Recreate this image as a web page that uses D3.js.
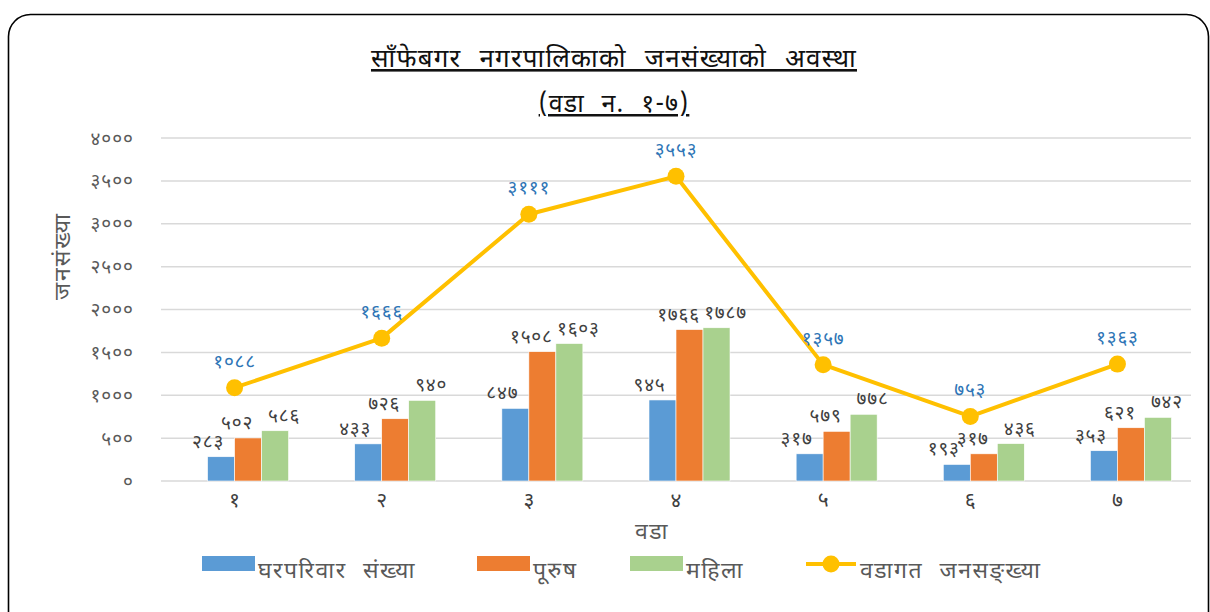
<!DOCTYPE html>
<html>
<head>
<meta charset="utf-8">
<script src="https://cdn.jsdelivr.net/npm/d3@7"></script>
<style>
  body { margin: 0; background: #fff; }
  text { font-family: "Noto Sans Devanagari", "Noto Sans", "Lohit Devanagari", sans-serif; }
</style>
</head>
<body>
<script>
(function all (){
  //chart data
  var wards = ["१", "२", "३", "४", "५", "६", "७"];
  var households = [283, 433, 847, 945, 317, 193, 353];
  var males = [502, 726, 1508, 1766, 579, 317, 621];
  var females = [586, 940, 1603, 1787, 778, 436, 742];
  var totals = [1088, 1666, 3111, 3553, 1357, 753, 1363];
  var yTicks = [0, 500, 1000, 1500, 2000, 2500, 3000, 3500, 4000];
  var seriesNames = ["घरपरिवार संख्या", "पूरुष", "महिला"];
  var lineName = "वडागत जनसङ्ख्या";

  var width = 1210, height = 612;
  var left = 161, right = 1191, top = 138, bottom = 481;

  //convert arabic digits to devanagari digits
  var devDigits = "०१२३४५६७८९";
  function dev(n){
    return String(n).replace(/[0-9]/g, function(c){ return devDigits[+c]; });
  }

  var svg = d3.select("body")
    .append("svg")
    .attr("width", width)
    .attr("height", height);

  //rounded frame
  svg.append("rect")
    .attr("x", 8.5).attr("y", 14.5)
    .attr("width", 1200).attr("height", 640)
    .attr("rx", 22).attr("ry", 22)
    .style("fill", "none")
    .style("stroke", "#000")
    .style("stroke-width", 1.6);

  //title
  svg.append("text")
    .attr("x", 614).attr("y", 67)
    .attr("text-anchor", "middle")
    .style("font-size", "26px")
    .style("letter-spacing", "1.2px")
    .style("word-spacing", "10px")
    .style("text-decoration", "underline")
    .style("fill", "#111")
    .text("साँफेबगर नगरपालिकाको जनसंख्याको अवस्था");
  svg.append("text")
    .attr("x", 614).attr("y", 112)
    .attr("text-anchor", "middle")
    .style("font-size", "25px")
    .style("letter-spacing", "1.2px")
    .style("word-spacing", "9px")
    .style("text-decoration", "underline")
    .style("fill", "#111")
    .text("(वडा न. १-७)");

  //scales
  var x = d3.scaleBand()
    .domain(wards)
    .range([left, right]);

  //4 slots per group, first slot is empty (hidden series in the original)
  var inner = d3.scaleBand()
    .domain([0, 1, 2, 3])
    .range([0, 108]);

  var y = d3.scaleLinear()
    .domain([0, 4000])
    .range([bottom, top]);

  //gridlines
  svg.append("g")
    .selectAll("line")
    .data(yTicks)
    .enter()
    .append("line")
    .attr("x1", left).attr("x2", right)
    .attr("y1", function(d){ return y(d); })
    .attr("y2", function(d){ return y(d); })
    .style("stroke", "#d9d9d9")
    .style("stroke-width", 1.5);

  //y axis labels
  var yAxis = d3.axisLeft(y)
    .tickValues(yTicks)
    .tickSize(0)
    .tickPadding(0)
    .tickFormat(dev);
  var yg = svg.append("g")
    .attr("transform", "translate(134,0)")
    .call(yAxis);
  yg.select(".domain").remove();
  yg.selectAll("text")
    .style("font-size", "19px")
    .style("letter-spacing", "1px")
    .style("fill", "#595959")
    .style("font-family", null);

  //x axis labels
  var xAxis = d3.axisBottom(x)
    .tickSize(0)
    .tickPadding(0);
  var xg = svg.append("g")
    .attr("transform", "translate(0," + (bottom + 7) + ")")
    .call(xAxis);
  xg.select(".domain").remove();
  xg.selectAll("text")
    .attr("dy", "0.9em")
    .style("font-size", "21px")
    .style("fill", "#404040")
    .style("font-family", null);

  //axis titles
  svg.append("text")
    .attr("transform", "translate(70,256) rotate(-90)")
    .attr("text-anchor", "middle")
    .style("font-size", "23px")
    .style("letter-spacing", "2px")
    .style("fill", "#595959")
    .text("जनसंख्या");
  svg.append("text")
    .attr("x", 652).attr("y", 539)
    .attr("text-anchor", "middle")
    .style("font-size", "23px")
    .style("letter-spacing", "1.5px")
    .style("fill", "#595959")
    .text("वडा");

  //bars
  var barSeries = [households, males, females];
  var colors = ["#5b9bd5", "#ed7d31", "#a9d18e"];
  var labelShift = [-13, -11, 9];

  barSeries.forEach(function(values, s){
    var g = svg.append("g").attr("class", "series" + s);
    g.selectAll("rect")
      .data(values)
      .enter()
      .append("rect")
      .attr("x", function(d, i){ return x(wards[i]) + x.bandwidth() / 2 - 54 + inner(s + 1); })
      .attr("y", function(d){ return y(d); })
      .attr("width", inner.bandwidth())
      .attr("height", function(d){ return bottom - y(d); })
      .style("fill", colors[s])
      .style("stroke", "#fff")
      .style("stroke-width", 0.6);
    g.selectAll("text")
      .data(values)
      .enter()
      .append("text")
      .attr("x", function(d, i){ return x(wards[i]) + x.bandwidth() / 2 - 54 + inner(s + 1) + inner.bandwidth() / 2 + labelShift[s]; })
      .attr("y", function(d){ return y(d) - 9; })
      .attr("text-anchor", "middle")
      .style("font-size", "19px")
      .style("letter-spacing", "0.8px")
      .style("fill", "#404040")
      .text(function(d){ return dev(d); });
  });

  //total line
  var line = d3.line()
    .x(function(d, i){ return x(wards[i]) + x.bandwidth() / 2; })
    .y(function(d){ return y(d); });

  svg.append("path")
    .datum(totals)
    .attr("d", line)
    .style("fill", "none")
    .style("stroke", "#ffc000")
    .style("stroke-width", 4)
    .style("stroke-linejoin", "round");

  svg.append("g")
    .selectAll("circle")
    .data(totals)
    .enter()
    .append("circle")
    .attr("cx", function(d, i){ return x(wards[i]) + x.bandwidth() / 2; })
    .attr("cy", function(d){ return y(d); })
    .attr("r", 8.5)
    .style("fill", "#ffc000");

  svg.append("g")
    .selectAll("text")
    .data(totals)
    .enter()
    .append("text")
    .attr("x", function(d, i){ return x(wards[i]) + x.bandwidth() / 2; })
    .attr("y", function(d){ return y(d) - 20; })
    .attr("text-anchor", "middle")
    .style("font-size", "19px")
    .style("letter-spacing", "0.8px")
    .style("fill", "#2e75b6")
    .text(function(d){ return dev(d); });

  //legend
  var legendY = 570;
  var legendItems = [
    {x: 202, label: seriesNames[0], color: colors[0]},
    {x: 477, label: seriesNames[1], color: colors[1]},
    {x: 630, label: seriesNames[2], color: colors[2]}
  ];
  var legend = svg.append("g").attr("class", "legend");
  legendItems.forEach(function(item){
    legend.append("rect")
      .attr("x", item.x).attr("y", legendY - 14)
      .attr("width", 53).attr("height", 15)
      .style("fill", item.color);
    legend.append("text")
      .attr("x", item.x + 56).attr("y", legendY + 8)
      .style("font-size", "23px")
      .style("letter-spacing", "1.5px")
      .style("word-spacing", "9px")
      .style("fill", "#595959")
      .text(item.label);
  });
  legend.append("line")
    .attr("x1", 806).attr("x2", 856)
    .attr("y1", legendY - 6).attr("y2", legendY - 6)
    .style("stroke", "#ffc000")
    .style("stroke-width", 4);
  legend.append("circle")
    .attr("cx", 831).attr("cy", legendY - 6)
    .attr("r", 8.5)
    .style("fill", "#ffc000");
  legend.append("text")
    .attr("x", 860).attr("y", legendY + 8)
    .style("font-size", "23px")
    .style("letter-spacing", "1.5px")
    .style("word-spacing", "9px")
    .style("fill", "#595959")
    .text(lineName);
})();
</script>
</body>
</html>
